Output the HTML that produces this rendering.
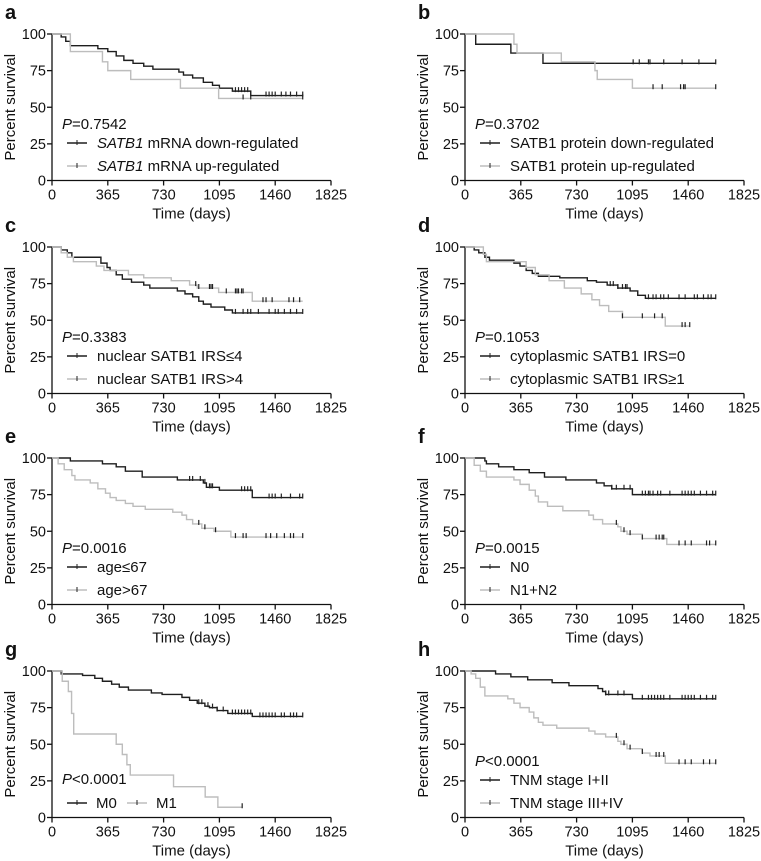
<!DOCTYPE html>
<html><head><meta charset="utf-8">
<style>
body{margin:0;background:#fff;}
svg{display:block;font-family:"Liberation Sans",Arial,sans-serif;}
</style></head>
<body>
<svg id="fig" width="761" height="861" viewBox="0 0 761 861"></svg>
<script>
// ---- data (time in days, survival in %) ----
const xTicks=[0,365,730,1095,1460,1825];
const yTicks=[0,25,50,75,100];
const panelLetters=["a","b","c","d","e","f","g","h"];
const pValues=["=0.7542","=0.3702","=0.3383","=0.1053","=0.0016","=0.0015","<0.0001","<0.0001"];
const legendBlack=["mRNA down-regulated","SATB1 protein down-regulated","nuclear SATB1 IRS≤4","cytoplasmic SATB1 IRS=0","age≤67","N0","M0","TNM stage I+II"];
const legendGray=["mRNA up-regulated","SATB1 protein up-regulated","nuclear SATB1 IRS>4","cytoplasmic SATB1 IRS≥1","age>67","N1+N2","M1","TNM stage III+IV"];

const aBlackT=[0,60,90,120,300,365,420,470,530,600,660,830,860,920,990,1050,1095,1180,1300];
const aBlackS=[100,98,95,92,90,88,85,82,80,78,76,74,72,70,67,65,63,61,58];
const aBlackEnd=1640;
const aBlackCens=[1200,1220,1240,1260,1280,1400,1420,1440,1460,1500,1530,1560,1600,1640];
const aGrayT=[0,120,330,365,515,840,1090];
const aGrayS=[100,88,81,75,69,63,56];
const aGrayEnd=1640;
const aGrayCens=[1250,1300,1640];

const bBlackT=[0,70,300,510];
const bBlackS=[100,93,87,80];
const bBlackEnd=1640;
const bBlackCens=[1100,1140,1200,1210,1300,1420,1530,1640];
const bGrayT=[0,320,340,630,850,865,1095];
const bGrayS=[100,93,87,81,75,69,63];
const bGrayEnd=1640;
const bGrayCens=[1230,1290,1410,1430,1440,1640];

const cBlackT=[0,60,100,130,320,360,380,420,460,520,600,640,820,870,920,960,990,1040,1130,1180];
const cBlackS=[100,98,96,93,89,86,84,81,78,76,74,72,70,68,66,63,61,59,57,55];
const cBlackEnd=1640;
const cBlackCens=[1200,1250,1280,1300,1350,1420,1460,1480,1520,1560,1600,1640];
const cGrayT=[0,60,100,140,290,340,500,600,780,900,950,1090,1310];
const cGrayS=[100,96,93,90,87,84,81,79,77,74,72,69,63];
const cGrayEnd=1640;
const cGrayCens=[940,960,1030,1040,1050,1140,1200,1210,1220,1240,1250,1380,1400,1440,1550,1580,1620];

const dBlackT=[0,60,90,130,160,320,360,400,440,480,620,800,860,930,1000,1080,1130,1180];
const dBlackS=[100,98,96,93,91,89,87,84,82,80,79,77,76,74,72,70,67,65];
const dBlackEnd=1640;
const dBlackCens=[950,970,1000,1030,1050,1060,1200,1230,1250,1280,1300,1330,1400,1440,1500,1520,1560,1590,1610,1640];
const dGrayT=[0,120,140,400,460,550,650,760,830,880,940,1030,1310];
const dGrayS=[100,95,90,86,81,77,72,68,64,60,56,52,46];
const dGrayEnd=1470;
const dGrayCens=[1030,1160,1240,1290,1420,1440,1470];

const eBlackT=[0,120,330,420,480,590,820,990,1010,1095,1310];
const eBlackS=[100,98,96,94,91,87,85,83,80,78,73];
const eBlackEnd=1640;
const eBlackCens=[900,920,970,1000,1030,1040,1050,1240,1260,1280,1300,1420,1440,1460,1500,1560,1620,1640];
const eGrayT=[0,40,80,130,150,250,300,350,380,420,480,530,610,790,850,880,920,980,1060,1170];
const eGrayS=[100,96,92,88,85,83,79,76,73,71,69,67,65,63,61,58,55,52,50,46];
const eGrayEnd=1640;
const eGrayCens=[960,1000,1070,1200,1250,1270,1400,1430,1470,1520,1560,1580,1640];

const fBlackT=[0,130,140,220,320,420,520,660,860,910,960,1095];
const fBlackS=[100,98,96,94,92,90,87,85,83,81,79,75];
const fBlackEnd=1640;
const fBlackCens=[960,990,1040,1080,1160,1180,1200,1210,1230,1260,1280,1340,1420,1440,1460,1480,1500,1540,1580,1620,1640];
const fGrayT=[0,60,100,140,320,360,420,460,480,540,640,810,840,900,1000,1020,1060,1160,1320];
const fGrayS=[100,95,91,87,85,82,78,74,70,67,64,61,58,55,53,50,48,45,41];
const fGrayEnd=1640;
const fGrayCens=[990,1040,1080,1160,1250,1270,1290,1300,1400,1440,1480,1580,1600,1640];

const gBlackT=[0,60,200,280,330,390,440,500,650,720,850,900,950,1000,1030,1080,1150,1310];
const gBlackS=[100,98,97,95,93,91,89,87,85,84,82,80,78,76,75,73,71,69];
const gBlackEnd=1640;
const gBlackCens=[960,980,1020,1050,1080,1120,1180,1200,1220,1240,1260,1280,1300,1360,1380,1400,1420,1440,1460,1500,1520,1560,1580,1600,1640];
const gGrayT=[0,67,107,128,142,420,460,490,512,795,1002,1085];
const gGrayS=[100,93,86,71,57,50,43,36,29,21,14,7];
const gGrayEnd=1244;
const gGrayCens=[1244];

const hBlackT=[0,200,300,410,570,680,870,900,920,1095];
const hBlackS=[100,98,96,94,92,90,88,86,84,81];
const hBlackEnd=1640;
const hBlackCens=[920,940,1000,1040,1160,1200,1220,1240,1260,1280,1300,1340,1420,1440,1460,1480,1500,1540,1580,1620,1640];
const hGrayT=[0,40,70,100,130,280,320,360,420,450,480,510,600,810,850,920,1000,1020,1060,1160,1210,1310];
const hGrayS=[100,98,95,89,83,81,78,75,72,68,65,63,61,59,57,55,52,50,47,44,42,37];
const hGrayEnd=1640;
const hGrayCens=[990,1040,1080,1160,1250,1270,1300,1400,1440,1480,1560,1600,1640];

const series=[
 [aBlackT,aBlackS,aBlackEnd,aBlackCens,aGrayT,aGrayS,aGrayEnd,aGrayCens],
 [bBlackT,bBlackS,bBlackEnd,bBlackCens,bGrayT,bGrayS,bGrayEnd,bGrayCens],
 [cBlackT,cBlackS,cBlackEnd,cBlackCens,cGrayT,cGrayS,cGrayEnd,cGrayCens],
 [dBlackT,dBlackS,dBlackEnd,dBlackCens,dGrayT,dGrayS,dGrayEnd,dGrayCens],
 [eBlackT,eBlackS,eBlackEnd,eBlackCens,eGrayT,eGrayS,eGrayEnd,eGrayCens],
 [fBlackT,fBlackS,fBlackEnd,fBlackCens,fGrayT,fGrayS,fGrayEnd,fGrayCens],
 [gBlackT,gBlackS,gBlackEnd,gBlackCens,gGrayT,gGrayS,gGrayEnd,gGrayCens],
 [hBlackT,hBlackS,hBlackEnd,hBlackCens,hGrayT,hGrayS,hGrayEnd,hGrayCens]
];

const NS="http://www.w3.org/2000/svg";
const svg=document.getElementById("fig");
function mk(tag,attrs,parent,text){
  const e=document.createElementNS(NS,tag);
  for(const k in attrs)e.setAttribute(k,attrs[k]);
  if(text!==undefined)e.textContent=text;
  parent.appendChild(e);return e;
}
const BLACK="#1e1e1e",GRAY="#bdbdbd";
const colLeft=[52,465], rowTop=[34,247,458,671], W=279, H=146.5;

for(let p=0;p<8;p++){
  const L=colLeft[p%2], T=rowTop[Math.floor(p/2)], B=T+H;
  const sx=t=>L+t/1825*W, sy=s=>B-s/100*H;
  const g=mk("g",{},svg);
  
  
  const lt=mk("text",{x:L-47,y:T-15,"font-size":20,"font-weight":"bold",fill:"#111"},g,panelLetters[p]);
  
  
  const ax=mk("g",{stroke:"#111","stroke-width":1.3,fill:"none"},g);
  
  
  mk("line",{x1:L,y1:T,x2:L,y2:B},ax);
  mk("line",{x1:L,y1:B,x2:L+W,y2:B},ax);
  for(const v of yTicks){
    mk("line",{x1:L-5,y1:sy(v),x2:L,y2:sy(v)},ax);
    const t=mk("text",{x:L-6,y:sy(v)+5,"font-size":14.5,"text-anchor":"end",fill:"#111",stroke:"none"},g,String(v));
    
    
  }
  for(const v of xTicks){
    mk("line",{x1:sx(v),y1:B,x2:sx(v),y2:B+5},ax);
    const t=mk("text",{x:sx(v),y:B+19,"font-size":14.5,"text-anchor":"middle",fill:"#111"},g,String(v));
    
    
  }
  const xt=mk("text",{x:L+W/2,y:B+38,"font-size":15,"text-anchor":"middle",fill:"#111"},g,"Time (days)");
  
  
  const yt=mk("text",{x:0,y:0,"font-size":15,"text-anchor":"middle",fill:"#111",transform:`translate(${L-37},${T+H/2}) rotate(-90)`},g,"Percent survival");
  
  
  const s=series[p];
  for(let k=0;k<2;k++){
    const Ts=s[k*4],Ss=s[k*4+1],end=s[k*4+2],cens=s[k*4+3];
    const col=k?GRAY:BLACK;
    let d=`M${sx(Ts[0])},${sy(Ss[0])}`;
    for(let i=1;i<Ts.length;i++){d+=`H${sx(Ts[i])}V${sy(Ss[i])}`;}
    d+=`H${sx(end)}`;
    const path=mk("path",{d:d,fill:"none",stroke:col,"stroke-width":1.4},g);
    
    
    const surv=t=>{let v=Ss[0];for(let i=0;i<Ts.length;i++)if(Ts[i]<=t)v=Ss[i];return v;};
    for(const c of cens){
      const m=mk("line",{x1:sx(c),x2:sx(c),y1:sy(surv(c))-4,y2:sy(surv(c))+1,stroke:"#222","stroke-width":1.2},g);
      
      
    }
  }
  const pt=mk("text",{x:L+10,y:p===6?T+113:T+95,"font-size":15,fill:"#111"},g);
  
  
  mk("tspan",{"font-style":"italic"},pt,"P");
  mk("tspan",{},pt,pValues[p]);
  const lg=mk("g",{},g);
  
  
  if(p===6){
    const y1=T+132;
    mk("line",{x1:L+15,x2:L+35,y1:y1,y2:y1,stroke:BLACK,"stroke-width":1.4},lg);
    mk("line",{x1:L+25,x2:L+25,y1:y1-3,y2:y1+2,stroke:BLACK,"stroke-width":1},lg);
    const e1=mk("text",{x:L+44,y:y1+5,"font-size":15,fill:"#111"},lg,legendBlack[p]);
    
    
    mk("line",{x1:L+75,x2:L+95,y1:y1,y2:y1,stroke:GRAY,"stroke-width":1.4},lg);
    mk("line",{x1:L+85,x2:L+85,y1:y1-3,y2:y1+2,stroke:"#222","stroke-width":1},lg);
    const e2=mk("text",{x:L+104,y:y1+5,"font-size":15,fill:"#111"},lg,legendGray[p]);
    
    
  } else {
    const rows=[[legendBlack[p],BLACK,T+109],[legendGray[p],GRAY,T+132]];
    rows.forEach(([txt,col,y],i)=>{
      mk("line",{x1:L+15,x2:L+35,y1:y,y2:y,stroke:col,"stroke-width":1.4},lg);
      mk("line",{x1:L+25,x2:L+25,y1:y-3,y2:y+2,stroke:"#222","stroke-width":1},lg);
      const t=mk("text",{x:L+45,y:y+5,"font-size":15,fill:"#111"},lg);
      
      
      if(p===0){mk("tspan",{"font-style":"italic"},t,"SATB1");mk("tspan",{},t," "+txt);}
      else t.textContent=txt;
    });
  }
}
</script>
</body></html>
